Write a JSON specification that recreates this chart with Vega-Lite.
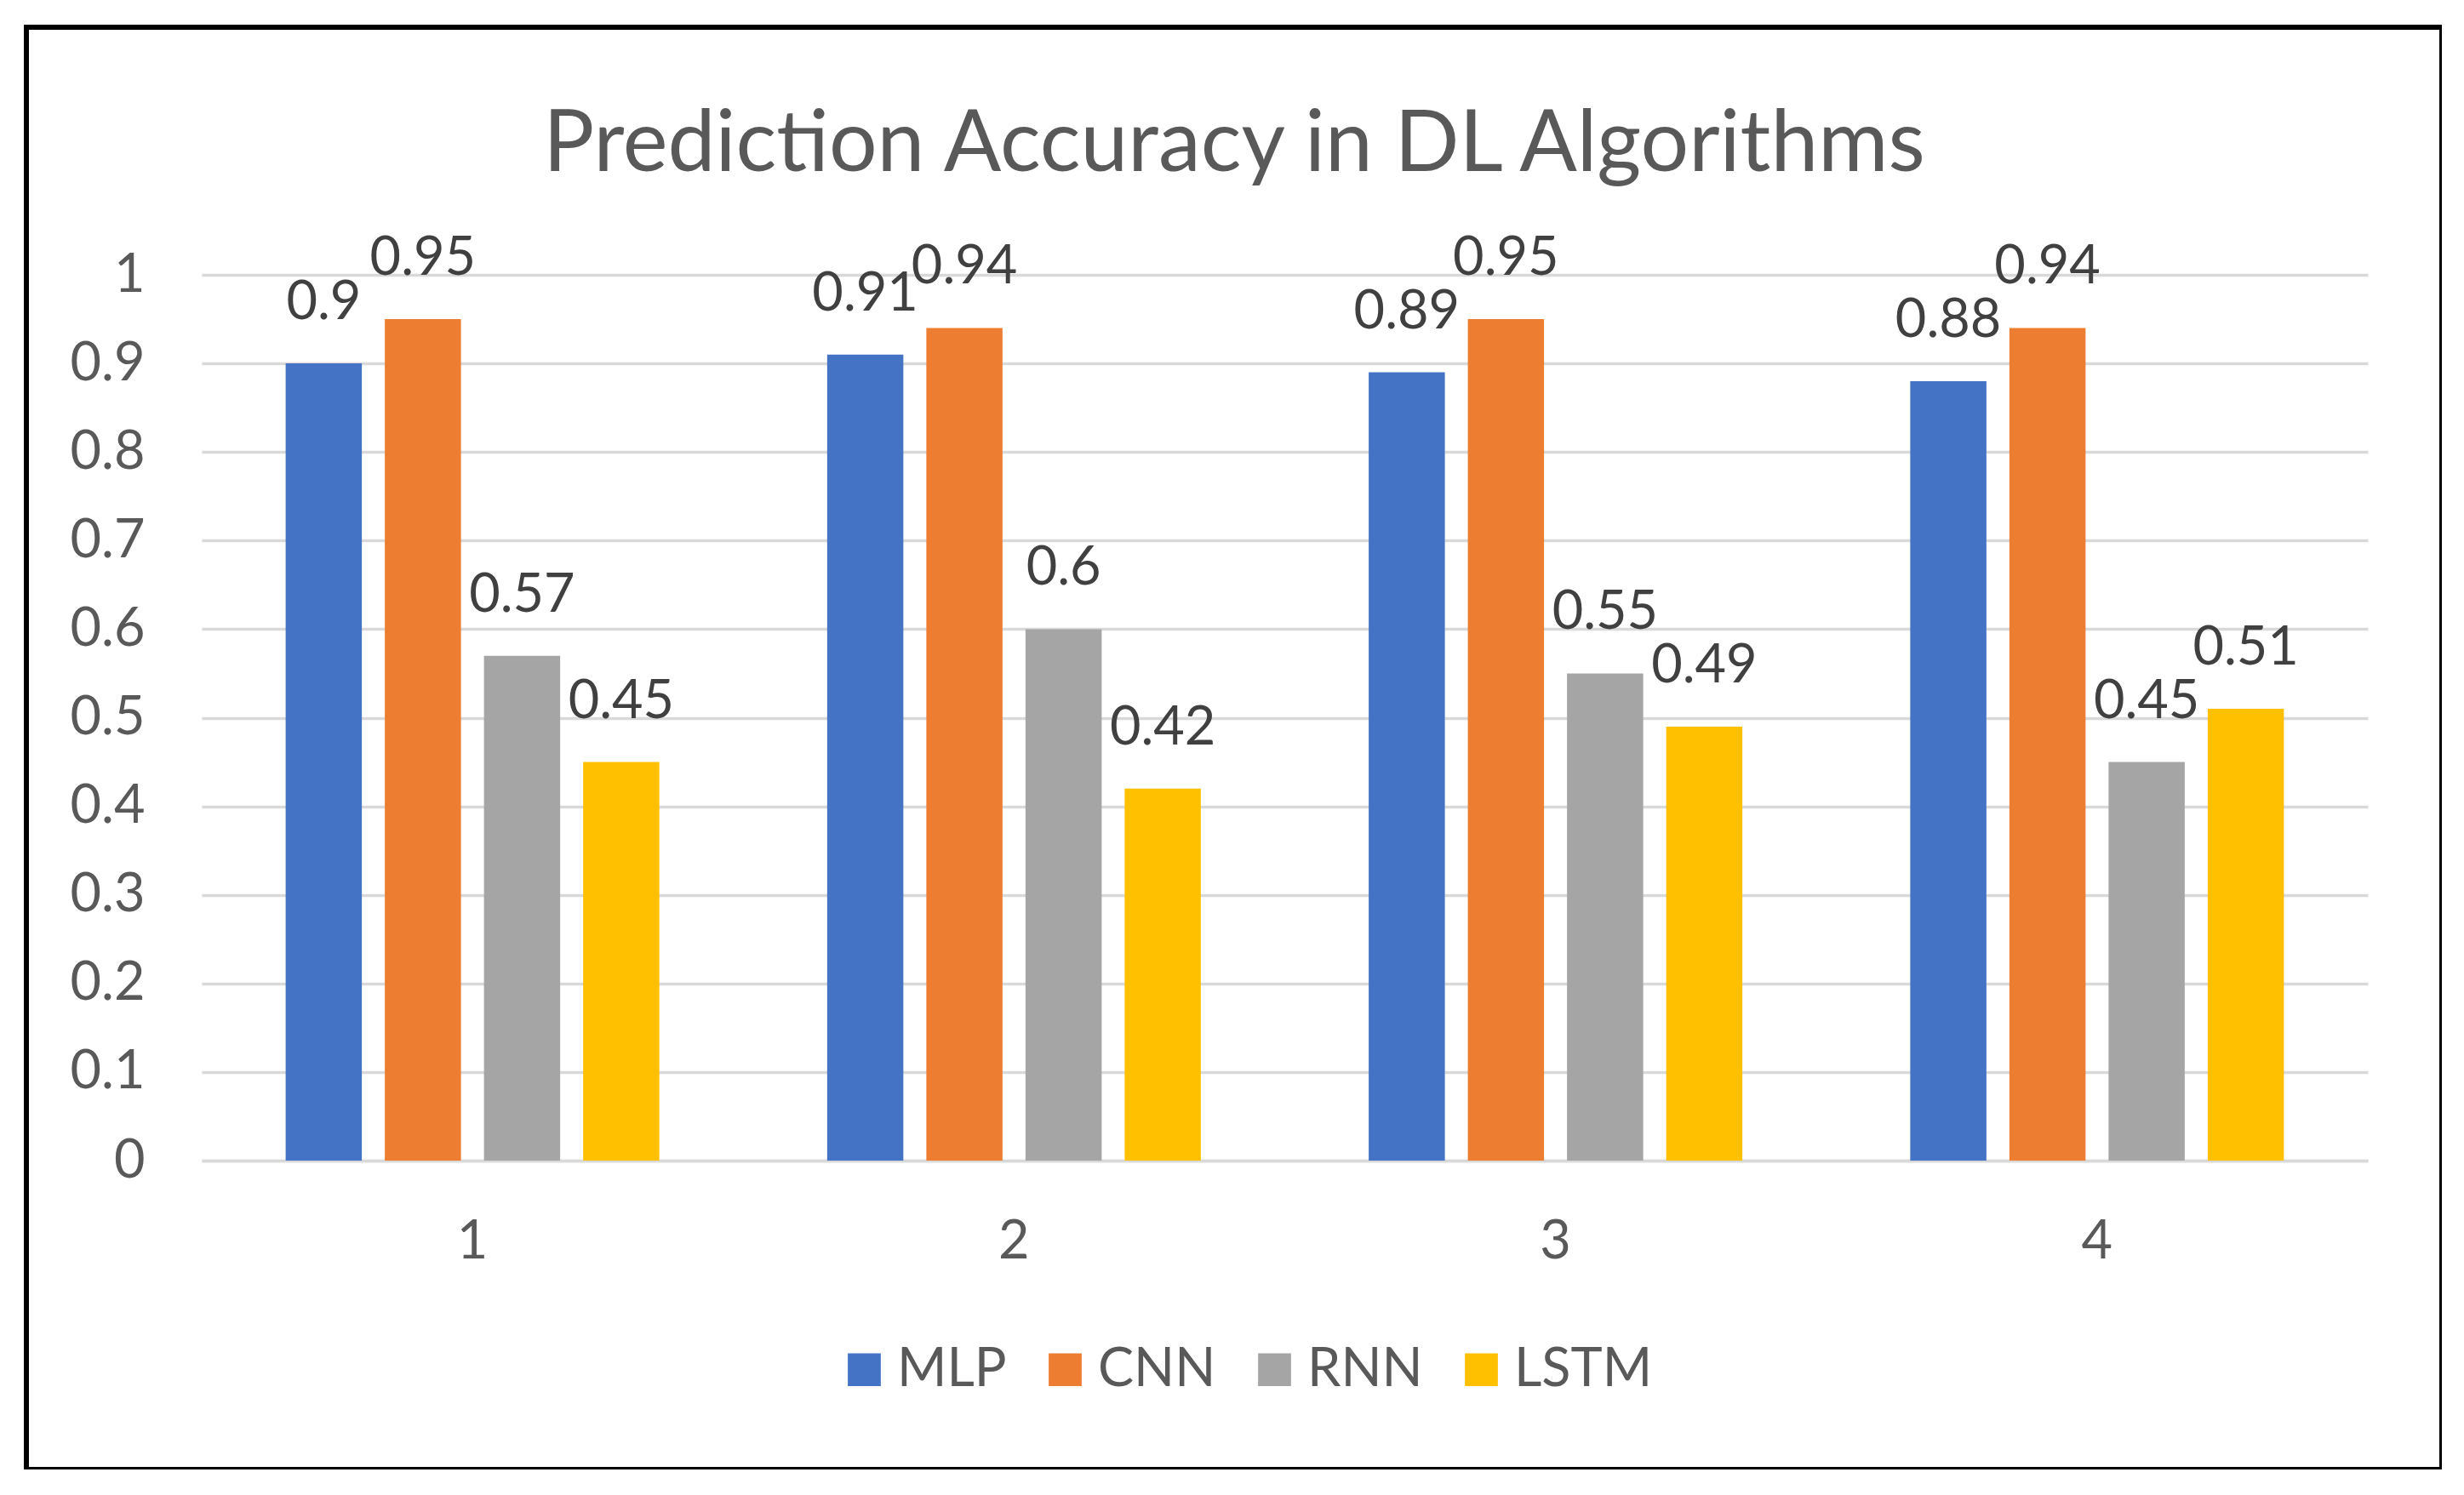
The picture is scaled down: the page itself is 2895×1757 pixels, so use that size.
{
  "$schema": "https://vega.github.io/schema/vega-lite/v6.json",
  "autosize": "none",
  "padding": {"left": 31, "top": 32, "right": 0, "bottom": 0},
  "width": 2838,
  "height": 1695,
  "background": "white",
  "title": {
    "text": "Predic\u200ction Accuracy in DL Algorithms",
    "font": "Lato",
    "fontSize": 100,
    "fontWeight": "normal",
    "color": "#595959",
    "baseline": "alphabetic",
    "anchor": "middle",
    "offset": -269
  },
  "data": {
    "values": [
      {"run": 1, "model": "MLP", "accuracy": 0.9},
      {"run": 1, "model": "CNN", "accuracy": 0.95},
      {"run": 1, "model": "RNN", "accuracy": 0.57},
      {"run": 1, "model": "LSTM", "accuracy": 0.45},
      {"run": 2, "model": "MLP", "accuracy": 0.91},
      {"run": 2, "model": "CNN", "accuracy": 0.94},
      {"run": 2, "model": "RNN", "accuracy": 0.6},
      {"run": 2, "model": "LSTM", "accuracy": 0.42},
      {"run": 3, "model": "MLP", "accuracy": 0.89},
      {"run": 3, "model": "CNN", "accuracy": 0.95},
      {"run": 3, "model": "RNN", "accuracy": 0.55},
      {"run": 3, "model": "LSTM", "accuracy": 0.49},
      {"run": 4, "model": "MLP", "accuracy": 0.88},
      {"run": 4, "model": "CNN", "accuracy": 0.94},
      {"run": 4, "model": "RNN", "accuracy": 0.45},
      {"run": 4, "model": "LSTM", "accuracy": 0.51}
    ]
  },
  "encoding": {
    "x": {
      "field": "run",
      "type": "ordinal",
      "scale": {"domain": [1, 2, 3, 4], "range": [206, 2751], "paddingInner": 0.31, "paddingOuter": 0.155},
      "axis": {
        "title": null,
        "orient": "bottom",
        "offset": -363,
        "ticks": false,
        "tickSize": 0,
        "labelAngle": 0,
        "labelPadding": 114,
        "labelBaseline": "alphabetic",
        "labelFont": "Lato",
        "labelFontSize": 63,
        "labelColor": "#595959",
        "domain": true,
        "domainColor": "#D9D9D9",
        "domainWidth": 3.5
      }
    },
    "xOffset": {
      "field": "model",
      "type": "nominal",
      "scale": {"domain": ["MLP", "CNN", "RNN", "LSTM"], "paddingInner": 0.232, "paddingOuter": 0}
    },
    "y": {
      "field": "accuracy",
      "type": "quantitative",
      "scale": {"domain": [0, 1], "range": [1332, 291], "nice": false},
      "axis": {
        "title": null,
        "orient": "left",
        "offset": -139,
        "ticks": false,
        "tickSize": 0,
        "labelPadding": 0,
        "domain": false,
        "grid": true,
        "gridColor": "#D9D9D9",
        "gridWidth": 3.5,
        "values": [0, 0.1, 0.2, 0.3, 0.4, 0.5, 0.6, 0.7, 0.8, 0.9, 1],
        "format": ".1~f",
        "labelFont": "Lato",
        "labelFontSize": 63,
        "labelColor": "#595959"
      }
    }
  },
  "layer": [
    {
      "mark": {"type": "bar"},
      "encoding": {
        "color": {
          "field": "model",
          "type": "nominal",
          "scale": {
            "domain": ["MLP", "CNN", "RNN", "LSTM"],
            "range": ["#4472C4", "#ED7D31", "#A5A5A5", "#FFC000"]
          },
          "legend": {
            "title": null,
            "orient": "none",
            "direction": "horizontal",
            "legendX": 953,
            "legendY": 1546,
            "padding": 0,
            "symbolType": "square",
            "symbolSize": 1500,
            "symbolStrokeWidth": 0,
            "labelFont": "Lato",
            "labelFontSize": 63,
            "labelColor": "#595959",
            "labelLimit": 0,
            "labelOffset": 7,
            "columnPadding": 37
          }
        }
      }
    },
    {
      "mark": {
        "type": "text",
        "align": "center",
        "baseline": "alphabetic",
        "dy": -52,
        "font": "Lato",
        "fontSize": 63,
        "color": "#404040"
      },
      "encoding": {
        "text": {"field": "accuracy", "type": "quantitative", "format": ".2~f"}
      }
    }
  ],
  "config": {
    "view": {"stroke": "black", "strokeWidth": 6}
  }
}
